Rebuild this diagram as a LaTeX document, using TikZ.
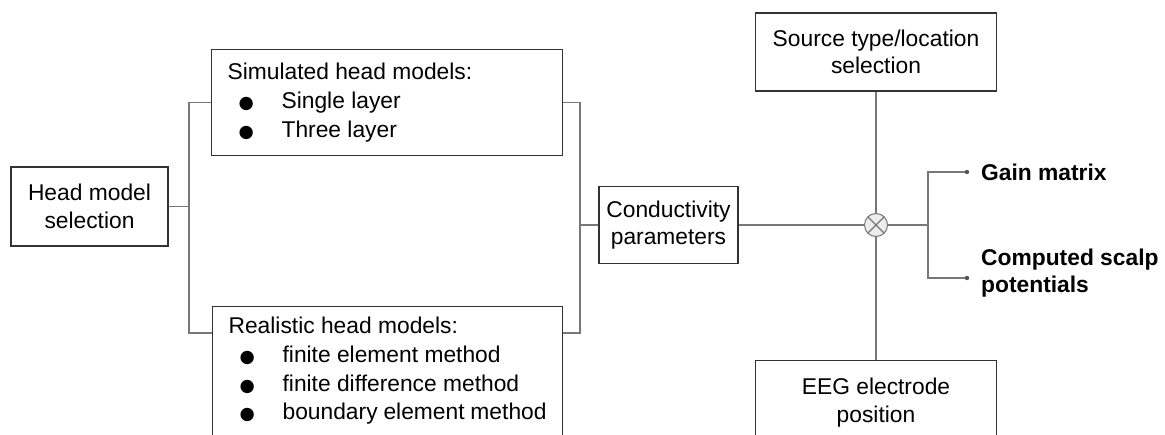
\documentclass[tikz,border=0pt]{standalone}
\usepackage{fontspec}
\setmainfont{Liberation Sans}
\newfontfamily\symfont{DejaVu Sans}
\definecolor{boxline}{HTML}{333333}
\definecolor{wiregray}{HTML}{777777}
\definecolor{dotgray}{HTML}{555555}
\newcommand\mainfs{\fontsize{22.8}{27.3}\selectfont}
\newcommand\listfs{\fontsize{22.8}{28.7}\selectfont}
% list item: bullet followed by the item text
\newcommand\blt[1]{\makebox[54pt][l]{\hspace*{11pt}{\symfont\fontsize{17.5}{17.5}\selectfont ●}}#1}
\begin{document}
\begin{tikzpicture}[x=1pt,y=-1pt,
  box/.style={draw=boxline, line width=1.2pt, fill=white, inner sep=0pt, align=center, font=\mainfs},
  listbox/.style={draw=boxline, line width=1.2pt, fill=white, anchor=north west, inner xsep=16pt},
  wire/.style={draw=wiregray, line width=1.1pt},
  outtext/.style={font=\mainfs\bfseries, anchor=west, inner sep=0pt, align=left},
]
\useasboundingbox (0,0) rectangle (1165,435);
\fill[white] (0,0) rectangle (1165,435);
\clip (0,0) rectangle (1165,435);

% blocks
\node[box, minimum width=157, minimum height=79] (head) at (89.5,206.5) {Head model\\selection};
\node[listbox, inner ysep=13.7pt] (sim) at (211,49)
  {\parbox[t][78.6pt][t]{319pt}{\listfs Simulated head models:\\
   \blt{Single layer}\\
   \blt{Three layer}}};
\node[listbox, inner ysep=10.6pt] (real) at (212,306)
  {\parbox[t][150pt][t]{318pt}{\listfs Realistic head models:\\
   \blt{finite element method}\\
   \blt{finite difference method}\\
   \blt{boundary element method}}};
\node[box, minimum width=139, minimum height=77] (cond) at (668.5,225) {Conductivity\\parameters};
\node[box, minimum width=241, minimum height=78] (src) at (876,52) {Source type/location\\selection};
\node[box, anchor=north, minimum width=241, minimum height=84] (eeg) at (876,360) {EEG electrode\\position};

% combining junction
\node[circle, draw=wiregray, fill=black!7, line width=1pt, minimum size=23pt, inner sep=0pt] (mul) at (876,225) {};
\draw[wire] (mul.45) -- (mul.225) (mul.135) -- (mul.315);

% outputs
\node[outtext] (gain) at (981,172) {Gain matrix};
\node[outtext] (scalp) at (981,273) {Computed scalp\\potentials};

% connectors
\coordinate (lb) at (189,206.5);
\coordinate (rb) at (580,225);
\coordinate (jn) at (928,225);
\coordinate (gdot) at (967,172);
\coordinate (cdot) at (967,278);

\draw[wire] (head.east) -- (lb);
\draw[wire] (sim.west) -| (lb) |- ([yshift=-27pt]real.north west);
\draw[wire] (sim.east) -| (rb) |- ([yshift=-27pt]real.north east);
\draw[wire] (rb) -- (cond.west);
\draw[wire] (cond.east) -- (mul.west);
\draw[wire] (src.south) -- (mul.north);
\draw[wire] (eeg.north) -- (mul.south);
\draw[wire] (mul.east) -- (jn);
\draw[wire] (gdot) -| (jn) |- (cdot);
\fill[dotgray] (gdot) circle (2.2) (cdot) circle (2.2);
\end{tikzpicture}
\end{document}
